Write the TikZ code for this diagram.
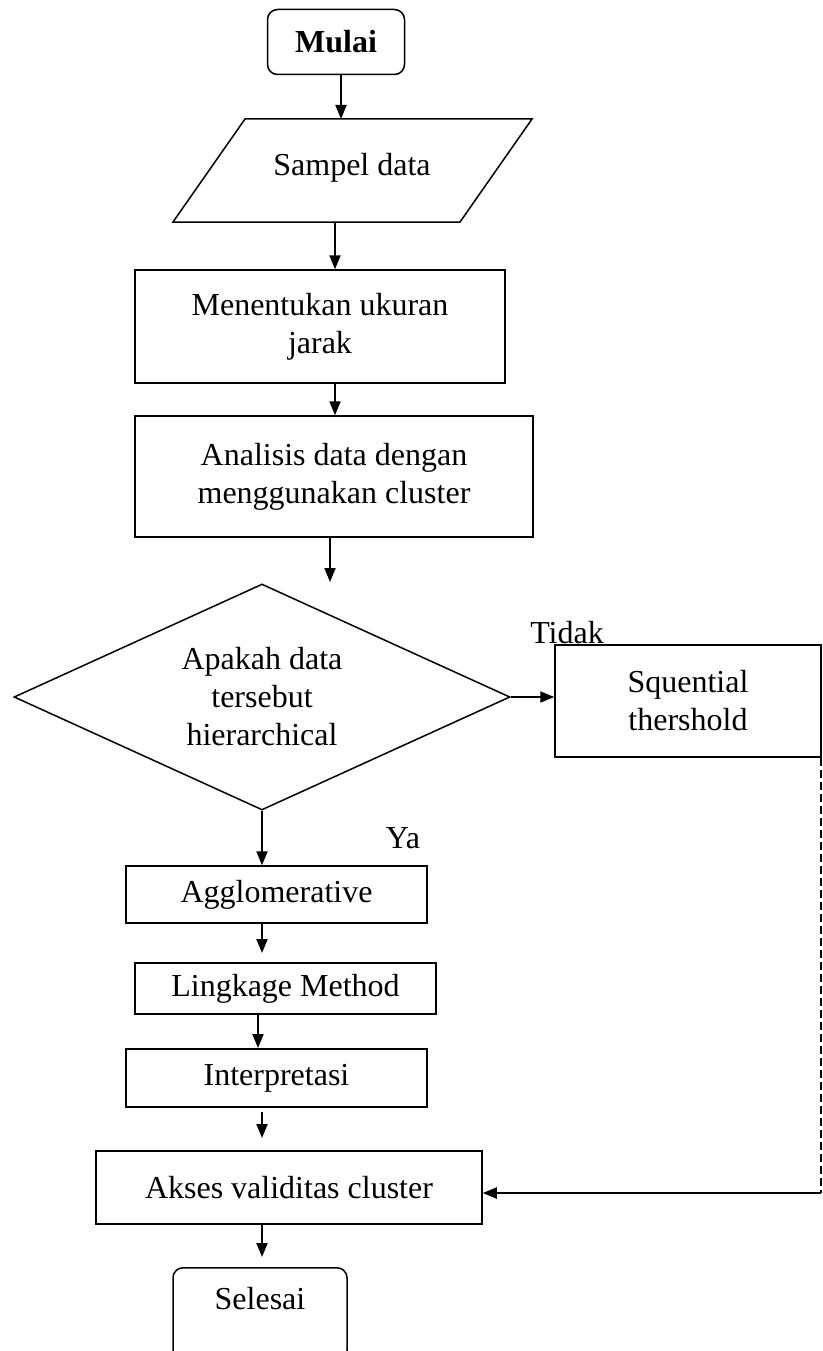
\documentclass[tikz,border=0pt]{standalone}
\usepackage{fontspec}
\setmainfont{Liberation Serif}
\usetikzlibrary{shapes.geometric,arrows.meta}
\tikzset{
  proses/.style={draw, line width=1.5pt, align=center, inner sep=4pt},
  terminal/.style={draw, line width=1.5pt, rounded corners=10pt, inner sep=4pt},
  keputusan/.style={draw, diamond, aspect=2.2, line width=1.5pt, align=center, inner sep=0pt},
  panah/.style={->, line width=2pt},
}
\begin{document}
\begin{tikzpicture}[x=1pt, y=-1pt, >={Triangle[width=11pt,length=14pt]}, font=\fontsize{32}{38}\selectfont]
\useasboundingbox (0,0) rectangle (822,1351);

\node[terminal, minimum width=137pt, minimum height=65pt] (mulai) at (336,42) {\textbf{Mulai}};

\node (sampel) at (352,168) {Sampel data};
\draw[line width=1.5pt] (245,119) -- (532,119) -- (460,222) -- (173,222) -- cycle;
\coordinate (sampelatas) at (341,119);
\coordinate (sampelbawah) at (335,222);

\node[proses, minimum width=370pt, minimum height=113pt] (jarak) at (320,326.5) {Menentukan ukuran\\jarak};
\node[proses, minimum width=398pt, minimum height=121pt] (analisis) at (334,476.5) {Analisis data dengan\\menggunakan cluster};
\node[keputusan, minimum width=496pt, minimum height=226pt] (hirarki) at (262,697) {Apakah data\\tersebut\\hierarchical};
\node[proses, minimum width=266pt, minimum height=112pt] (sekuensial) at (688,701) {Squential\\thershold};
\node[proses, minimum width=301pt, minimum height=57pt] (agglo) at (276.5,894.5) {Agglomerative};
\node[proses, minimum width=301pt, minimum height=51pt] (linkage) at (285.5,988.5) {Lingkage Method};
\node[proses, minimum width=301pt, minimum height=58pt] (interpretasi) at (276.5,1078) {Interpretasi};
\node[proses, minimum width=386pt, minimum height=73pt] (akses) at (289,1187.5) {Akses validitas cluster};
\node[terminal, minimum width=174pt, anchor=north, text height=38pt, text depth=47pt] (selesai) at (260,1267) {Selesai};

\node (tidak) at (567,633) {Tidak};
\node (ya) at (403,838) {Ya};

% panah
\coordinate (ujung1) at (330,582);
\coordinate (ujung2) at (262,953);
\coordinate (ujung3) at (258,1048);
\coordinate (pangkal4) at (262,1112);
\coordinate (ujung4) at (262,1138);
\coordinate (ujung5) at (262,1257);
\coordinate (belok) at (821,1193);

\draw[panah] (sampelatas |- mulai.south) -- (sampelatas);
\draw[panah] (sampelbawah) -- (sampelbawah |- jarak.north);
\draw[panah] ([xshift=15pt]jarak.south) -- ([xshift=15pt]jarak.south |- analisis.north);
\draw[panah] (ujung1 |- analisis.south) -- (ujung1);
\draw[panah] (hirarki.east) -- (hirarki.east -| sekuensial.west);
\draw[panah] (hirarki.south) -- (hirarki.south |- agglo.north);
\draw[panah] (ujung2 |- agglo.south) -- (ujung2);
\draw[panah] (ujung3 |- linkage.south) -- (ujung3);
\draw[panah] (pangkal4) -- (ujung4);
\draw[panah] (ujung5 |- akses.south) -- (ujung5);
\draw[line width=1.5pt, dash pattern=on 8pt off 4pt] (belok |- sekuensial.south) -- (belok);
\draw[panah] (belok) -- (belok -| akses.east);
\end{tikzpicture}
\end{document}
